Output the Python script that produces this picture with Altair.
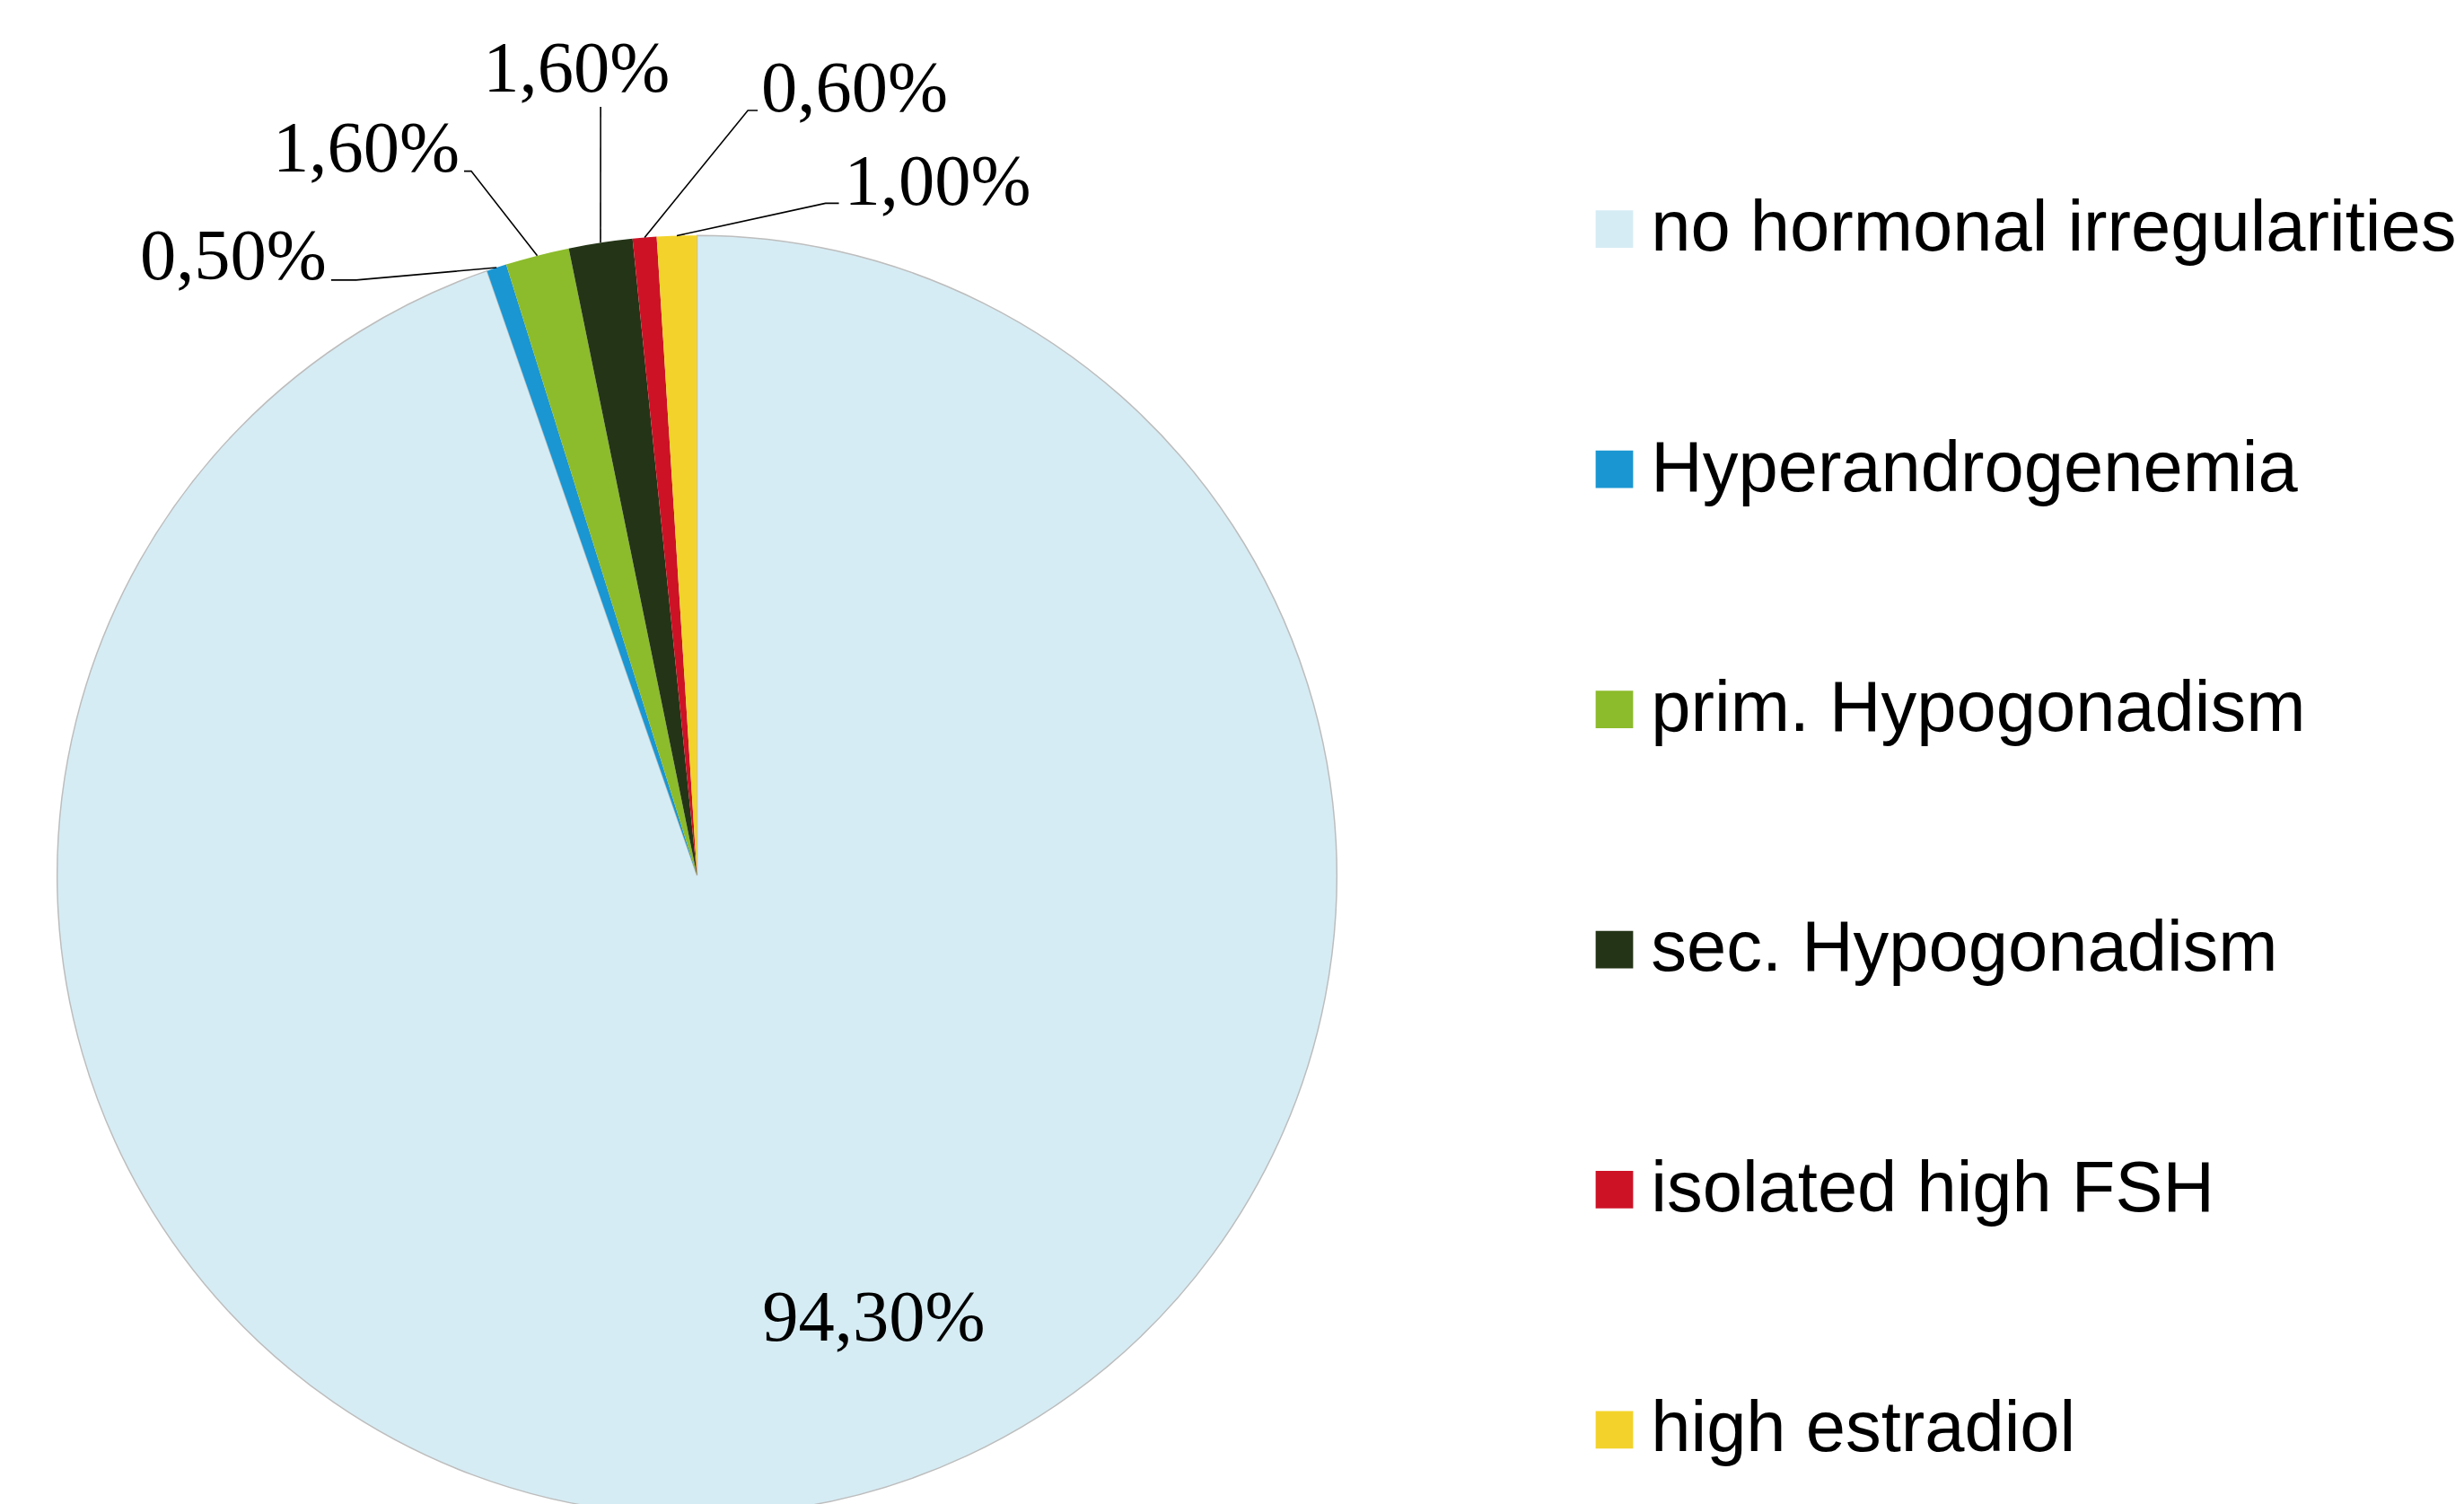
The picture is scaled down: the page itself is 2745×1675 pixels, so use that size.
import math
import altair as alt
import pandas as pd

# ---------------- data ----------------
categories = [
    "no hormonal irregularities",
    "Hyperandrogenemia",
    "prim. Hypogonadism",
    "sec. Hypogonadism",
    "isolated high FSH",
    "high estradiol",
]
values = [94.3, 0.5, 1.6, 1.6, 0.6, 1.0]
labels = ["94,30%", "0,50%", "1,60%", "1,60%", "0,60%", "1,00%"]
colors = ["#D6ECF4", "#1A96D2", "#8CBB2C", "#243517", "#CE1226", "#F3D32B"]

# ---------------- layout ----------------
W, H = 1546, 1934          # plot area; pie centred in it (bottom is cut by the window)
CX, CY = W / 2, H / 2
R = 717                    # pie radius
LABEL_FONT = "Liberation Serif"
LABEL_SIZE = 81

# label anchor (dx, dy baseline) relative to the pie centre, and alignment
LABEL_LAYOUT = {
    "no hormonal irregularities": (198, 521, "center"),
    "Hyperandrogenemia": (-415, -668, "right"),
    "prim. Hypogonadism": (-266, -789, "right"),
    "sec. Hypogonadism": (-135, -878, "center"),
    "isolated high FSH": (72, -856, "left"),
    "high estradiol": (165, -751, "left"),
}
# leader line points after the slice edge point, relative to the pie centre
LEADER_LAYOUT = {
    "Hyperandrogenemia": [(-382, -667), (-410, -667)],
    "prim. Hypogonadism": [(-253, -789), (-261, -789)],
    "sec. Hypogonadism": [(-108, -861)],
    "isolated high FSH": [(57, -857), (68, -857)],
    "high estradiol": [(144, -753), (159, -753)],
}

df = pd.DataFrame({
    "category": categories,
    "value": values,
    "label": labels,
    "idx": list(range(len(categories))),
})

# mid-angle of each slice (0 at 12 o'clock, clockwise) -> edge points for leaders
total = sum(values)
cum = 0.0
mid = {}
for c, v in zip(categories, values):
    mid[c] = (cum + v / 2) / total * 2 * math.pi
    cum += v

leader_rows = []
for c, pts in LEADER_LAYOUT.items():
    a = mid[c]
    leader_rows.append({"cat": c, "seq": 0, "x": CX + R * math.sin(a), "y": CY - R * math.cos(a)})
    for i, (dx, dy) in enumerate(pts, start=1):
        leader_rows.append({"cat": c, "seq": i, "x": CX + dx, "y": CY + dy})
leaders = pd.DataFrame(leader_rows)

text_rows = []
for c, lab in zip(categories, labels):
    dx, dy, al = LABEL_LAYOUT[c]
    text_rows.append({"cat": c, "text": lab, "x": CX + dx, "y": CY + dy, "align": al})
texts = pd.DataFrame(text_rows)

# ---------------- chart ----------------
pie = alt.Chart(df).mark_arc(outerRadius=R, stroke="#BDBDBD").encode(
    theta=alt.Theta("value:Q", stack=True),
    order=alt.Order("idx:Q", sort="ascending"),
    color=alt.Color(
        "category:N",
        scale=alt.Scale(domain=categories, range=colors),
        sort=categories,
        legend=alt.Legend(
            title=None,
            orient="none",
            legendX=1761,
            legendY=203,
            symbolType="square",
            symbolSize=1764,
            symbolStrokeWidth=0,
            labelFont="Liberation Sans",
            labelFontSize=80,
            labelColor="#000000",
            labelOffset=1,
            labelLimit=3000,
            rowPadding=189,
            padding=0,
        ),
    ),
    strokeWidth=alt.condition(
        alt.datum.category == categories[0], alt.value(1.5), alt.value(0)
    ),
)

lines = alt.Chart(leaders).mark_line(color="#000000", strokeWidth=1.6).encode(
    x=alt.X("x:Q", scale=None, axis=None),
    y=alt.Y("y:Q", scale=None, axis=None),
    detail="cat:N",
    order="seq:Q",
)

text_layers = []
for al in ["left", "center", "right"]:
    text_layers.append(
        alt.Chart(texts)
        .transform_filter(alt.datum.align == al)
        .mark_text(
            align=al,
            baseline="alphabetic",
            font=LABEL_FONT,
            fontSize=LABEL_SIZE,
            color="#000000",
        )
        .encode(
            x=alt.X("x:Q", scale=None, axis=None),
            y=alt.Y("y:Q", scale=None, axis=None),
            text="text:N",
        )
    )

chart = (
    alt.layer(pie, lines, *text_layers)
    .properties(width=W, height=H, padding=0, background="#FFFFFF")
    .configure_view(stroke=None)
)

chart.save("out.html", embed_options={"renderer": "svg", "actions": False})
